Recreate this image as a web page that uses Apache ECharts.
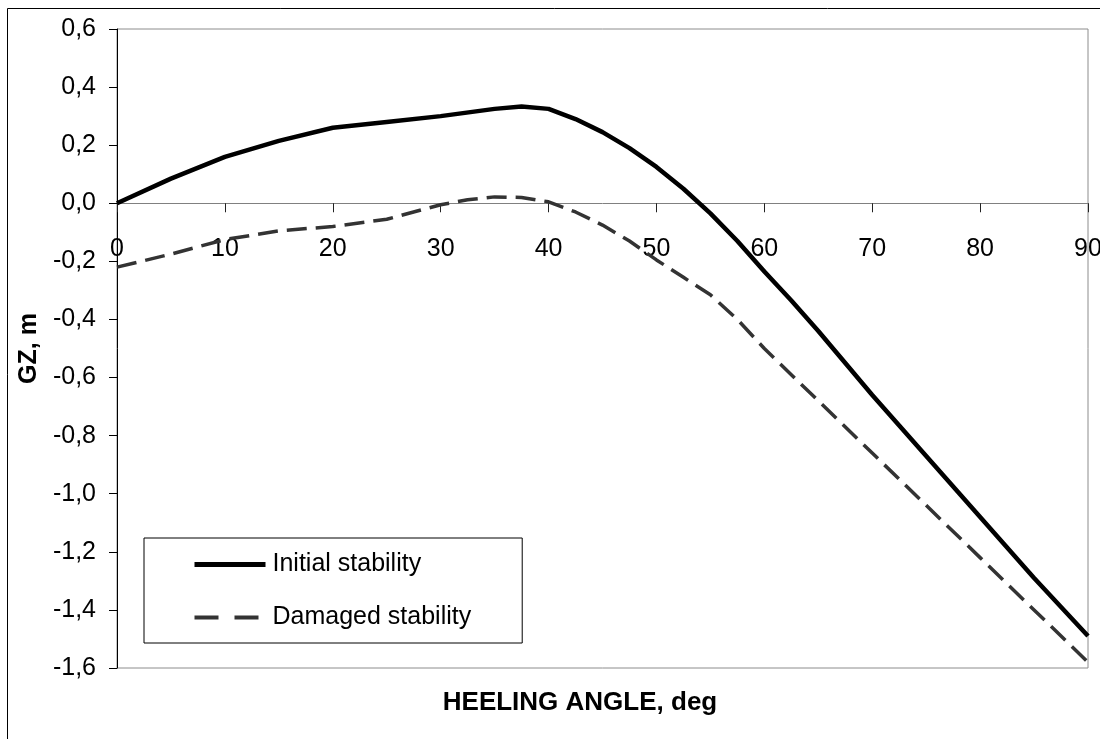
<!DOCTYPE html>
<html>
<head>
<meta charset="utf-8">
<script src="https://cdn.jsdelivr.net/npm/echarts@6/dist/echarts.min.js"></script>
<style>
html,body{margin:0;padding:0;background:#fff;}
#chart{width:1100px;height:739px;}
</style>
</head>
<body>
<div id="chart"></div>
<script>
var seriesNames = ['Initial stability', 'Damaged stability'];
var initialAngles = [0, 5, 10, 15, 20, 25, 30, 35, 37.5, 40, 42.5, 45, 47.5, 50, 52.5, 55, 57.5, 60, 62.5, 65, 70, 75, 80, 85, 90];
var initialGZ = [0, 0.085, 0.16, 0.215, 0.26, 0.28, 0.30, 0.325, 0.333, 0.325, 0.29, 0.245, 0.19, 0.125, 0.05, -0.035, -0.13, -0.235, -0.335, -0.44, -0.66, -0.87, -1.08, -1.29, -1.49];
var damagedAngles = [0, 5, 10, 15, 20, 25, 30, 32.5, 35, 37.5, 40, 42.5, 45, 47.5, 50, 52.5, 55, 57.5, 60, 62.5, 65, 70, 75, 80, 85, 90];
var damagedGZ = [-0.22, -0.175, -0.125, -0.095, -0.08, -0.055, -0.005, 0.012, 0.022, 0.02, 0.005, -0.03, -0.075, -0.13, -0.195, -0.255, -0.315, -0.4, -0.5, -0.59, -0.68, -0.86, -1.04, -1.22, -1.4, -1.58];
var xTitle = 'HEELING ANGLE, deg';
var yTitle = 'GZ, m';
var yMin = -1.6, yMax = 0.6;

function pairs(xs, ys) { return xs.map(function (x, i) { return [x, ys[i]]; }); }
var FONT = "'Liberation Sans', Arial, sans-serif";

var W = 1100, H = 739;
var gTop = 29, gBottom = 71, gLeft = 117, gRight = 12;
var gH = H - gTop - gBottom;
// move the x axis up to the y = 0 line
var zeroOffset = -(gH * (0 - yMin) / (yMax - yMin));

var chart = echarts.init(document.getElementById('chart'), null, {renderer: 'canvas'});
chart.setOption({
  animation: false,
  backgroundColor: '#fff',
  grid: {left: gLeft, top: gTop, right: gRight, bottom: gBottom, containLabel: false, outerBoundsMode: 'none',
    show: true, borderColor: '#8c8c8c', borderWidth: 1, backgroundColor: 'transparent'},
  graphic: [
    {type: 'rect', shape: {x: 7.5, y: 8.5, width: 1110, height: 750}, style: {fill: 'none', stroke: '#000', lineWidth: 1}, silent: true, z: -1},
    {type: 'text', x: 580, y: 703, style: {text: xTitle, font: 'bold 26px ' + FONT, fill: '#000', align: 'center', verticalAlign: 'middle'}}
  ],
  legend: {
    orient: 'vertical', left: 144, top: 538,
    padding: [14, 51, 13, 48], itemGap: 28, itemWidth: 71, itemHeight: 24,
    borderColor: '#000', borderWidth: 1, backgroundColor: '#fff',
    itemStyle: {opacity: 0, borderWidth: 0},
    textStyle: {fontFamily: FONT, fontSize: 25, color: '#000', padding: [0, 0, 0, 2]},
    data: [
      {name: seriesNames[0], lineStyle: {width: 5, color: '#000'}},
      {name: seriesNames[1], lineStyle: {width: 4, color: '#333', type: [24, 16]}}
    ]
  },
  xAxis: {
    type: 'value', min: 0, max: 90, interval: 10, position: 'bottom', offset: zeroOffset,
    axisLine: {onZero: false, lineStyle: {color: '#808080', width: 1}},
    axisTick: {show: true, length: 9, inside: false, lineStyle: {color: '#222'}},
    axisLabel: {margin: 33, fontFamily: FONT, fontSize: 25, color: '#000'},
    splitLine: {show: false}
  },
  yAxis: {
    type: 'value', min: yMin, max: yMax, interval: 0.2,
    name: yTitle, nameLocation: 'middle', nameGap: 72,
    nameTextStyle: {fontFamily: FONT, fontSize: 25, fontWeight: 'bold', color: '#000'},
    axisLine: {show: true, onZero: false, lineStyle: {color: '#000', width: 1}},
    axisTick: {show: true, length: 8, lineStyle: {color: '#000'}},
    axisLabel: {margin: 21, fontFamily: FONT, fontSize: 25, color: '#000',
      formatter: function (v) { return (Math.round(v * 10) / 10).toFixed(1).replace('.', ','); }},
    splitLine: {show: false}
  },
  series: [
    {name: seriesNames[0], type: 'line', data: pairs(initialAngles, initialGZ), symbol: 'none',
      lineStyle: {color: '#000', width: 4.5}, itemStyle: {color: '#000'}, z: 3},
    {name: seriesNames[1], type: 'line', data: pairs(damagedAngles, damagedGZ), symbol: 'none',
      lineStyle: {color: '#333', width: 3.5, type: [20, 9]}, itemStyle: {color: '#333'}, z: 2}
  ]
});
</script>
</body>
</html>
